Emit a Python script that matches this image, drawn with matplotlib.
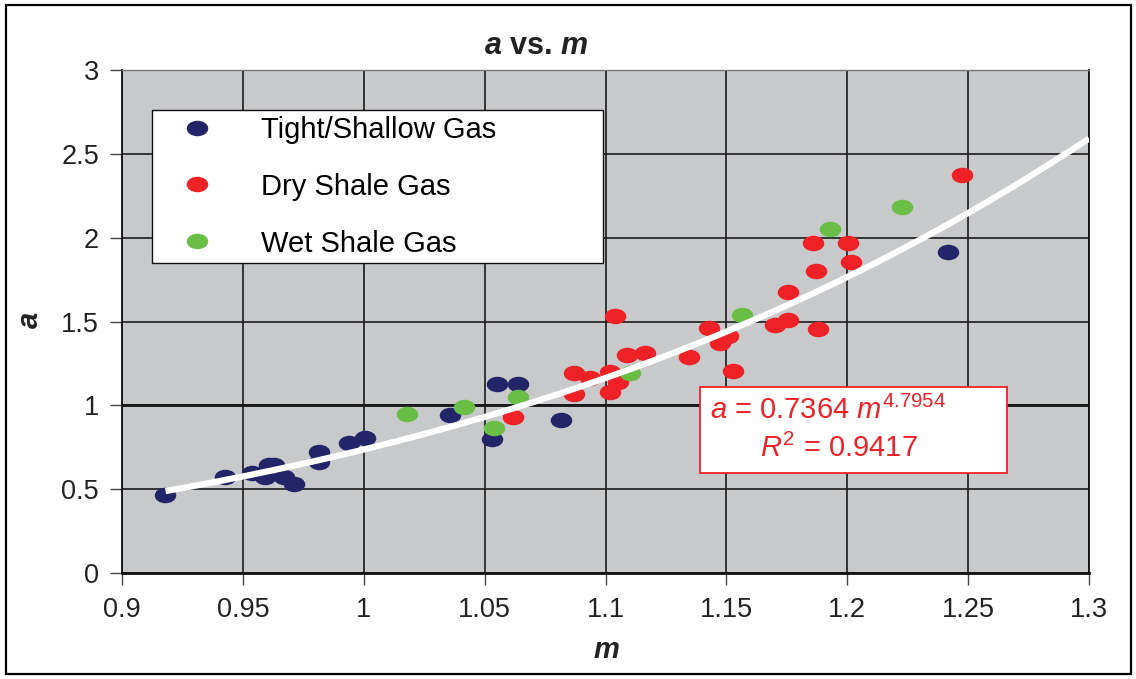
import numpy as np
import matplotlib
matplotlib.use("Agg")
import matplotlib.pyplot as plt
from matplotlib.path import Path
from matplotlib.transforms import Affine2D
from matplotlib.patches import Rectangle
from matplotlib.lines import Line2D

plt.rcParams['font.family'] = ['Liberation Sans', 'DejaVu Sans']
plt.rcParams['mathtext.fontset'] = 'custom'
plt.rcParams['mathtext.rm'] = 'Liberation Sans'
plt.rcParams['mathtext.it'] = 'Liberation Sans:italic'
plt.rcParams['mathtext.bf'] = 'Liberation Sans:bold'
plt.rcParams['mathtext.bfit'] = 'Liberation Sans:bold:italic'

# ---- data ----
tight_m = [0.9178, 0.9426, 0.9538, 0.9608, 0.9630, 0.9590, 0.9670, 0.9710,
           0.9815, 0.9815, 0.9939, 1.0005, 1.0356, 1.0550, 1.0640, 1.0530,
           1.0816, 1.2416]
tight_a = [0.465, 0.572, 0.596, 0.644, 0.644, 0.572, 0.572, 0.531,
           0.720, 0.662, 0.775, 0.805, 0.942, 1.127, 1.127, 0.800,
           0.912, 1.914]

dry_m = [1.0617, 1.0869, 1.0869, 1.0935, 1.1018, 1.1018, 1.1050, 1.1088,
         1.1163, 1.1040, 1.1345, 1.1428, 1.1473, 1.1506, 1.1527, 1.1700,
         1.1754, 1.1754, 1.1878, 1.1870, 1.1858, 1.2003, 1.2015, 1.2474]
dry_a = [0.930, 1.193, 1.067, 1.163, 1.199, 1.079, 1.139, 1.300,
         1.312, 1.532, 1.288, 1.461, 1.372, 1.413, 1.205, 1.479,
         1.509, 1.676, 1.455, 1.800, 1.968, 1.968, 1.855, 2.373]

wet_m = [1.0179, 1.0414, 1.0640, 1.0538, 1.1100, 1.1564, 1.1928, 1.2226]
wet_a = [0.948, 0.990, 1.050, 0.865, 1.190, 1.538, 2.051, 2.180]

series_labels = ["Tight/Shallow Gas", "Dry Shale Gas", "Wet Shale Gas"]
series_colors = ["#242468", "#EE2226", "#6BBE45"]

fit_coef = 0.7364
fit_exp = 4.7954
fit_r2 = 0.9417
fit_range = (0.918, 1.30)

x_ticks = [0.9, 0.95, 1.0, 1.05, 1.1, 1.15, 1.2, 1.25, 1.3]
x_ticklabels = ["0.9", "0.95", "1", "1.05", "1.1", "1.15", "1.2", "1.25", "1.3"]
y_ticks = [0, 0.5, 1, 1.5, 2, 2.5, 3]
y_ticklabels = ["0", "0.5", "1", "1.5", "2", "2.5", "3"]

# ---- figure ----
fig = plt.figure(figsize=(11.36, 6.79), dpi=100)
ax = fig.add_axes([122/1136, 1-573/679, 967/1136, 503/679])
ax.set_facecolor("#C8C9CB")

ax.set_xlim(0.9, 1.3)
ax.set_ylim(0, 3)
ax.set_xticks(x_ticks)
ax.set_xticklabels(x_ticklabels)
ax.set_yticks(y_ticks)
ax.set_yticklabels(y_ticklabels)
ax.tick_params(axis='both', labelsize=19.5, length=8.5, width=1, color="#444444",
               labelcolor="#222222")
ax.tick_params(axis='y', pad=8)
ax.tick_params(axis='x', pad=9)
ax.grid(True, color="#1a1a1a", linewidth=1.2, zorder=0)
ax.set_axisbelow(True)
ax.axhline(1.0, color="#111111", linewidth=2.0, zorder=0.5)
for s in ["left", "bottom", "right"]:
    ax.spines[s].set_color("#111111")
    ax.spines[s].set_linewidth(1.3)
ax.spines["bottom"].set_linewidth(2.0)
ax.spines["top"].set_color("#777777")
ax.spines["top"].set_linewidth(1.0)

ell = Path.unit_circle().transformed(Affine2D().scale(1.0, 0.72))

mm = np.linspace(fit_range[0], fit_range[1], 200)
ax.plot(mm, fit_coef * mm ** fit_exp, color="white", linewidth=4.5, zorder=3,
        solid_capstyle="butt")

for xs, ys, c, lab in zip([tight_m, dry_m, wet_m], [tight_a, dry_a, wet_a],
                          series_colors, series_labels):
    ax.plot(xs, ys, linestyle="none", marker=ell, markersize=15.5,
            markerfacecolor=c, markeredgewidth=0, color=c, label=lab, zorder=2)

handles = [Line2D([], [], linestyle="none", marker=ell, markersize=15.5,
                  markerfacecolor=c, markeredgewidth=0) for c in series_colors]
leg = ax.legend(handles, series_labels, loc="upper left",
                bbox_to_anchor=(30/967, (573-110)/503, 451/967, 0.0),
                mode="expand", fontsize=21, frameon=True, fancybox=False,
                framealpha=1, edgecolor="#111111", borderpad=0.2,
                labelspacing=0.99, handlelength=2.7, handletextpad=0.85,
                borderaxespad=0)
leg.get_frame().set_linewidth(1.0)
leg.set_zorder(5)

# equation box
ax.add_patch(Rectangle(((700-122)/967, (573-473)/503), 307/967, 86/503,
                       transform=ax.transAxes, facecolor="white",
                       edgecolor="#EE2226", linewidth=1.3, zorder=6))
ax.text((828-122)/967, (573-410)/503,
        r"$a$ = %.4f $m^{%.4f}$" % (fit_coef, fit_exp),
        transform=ax.transAxes, ha="center", va="center", color="#EE2226",
        fontsize=21, zorder=7)
ax.text((839-122)/967, (573-448)/503,
        r"$R^{2}$ = %.4f" % fit_r2,
        transform=ax.transAxes, ha="center", va="center", color="#EE2226",
        fontsize=21, zorder=7)

fig.text(536/1136, 1-46/679, r"$\mathbfit{a}$ vs. $\mathbfit{m}$",
         ha="center", va="center", fontsize=22, fontweight="bold", color="#222222")
fig.text(606/1136, 1-650/679, "m", ha="center", va="center", fontsize=21,
         fontweight="bold", fontstyle="italic", color="#222222")
fig.text(30/1136, 1-320/679, "a", ha="center", va="center", fontsize=21,
         fontweight="bold", fontstyle="italic", color="#222222", rotation=90)

fig.patches.append(Rectangle((6/1136, 1-674/679), 1125/1136, 669/679,
                             transform=fig.transFigure, fill=False,
                             edgecolor="black", linewidth=1.6))

fig.savefig("out.png", dpi=100)
